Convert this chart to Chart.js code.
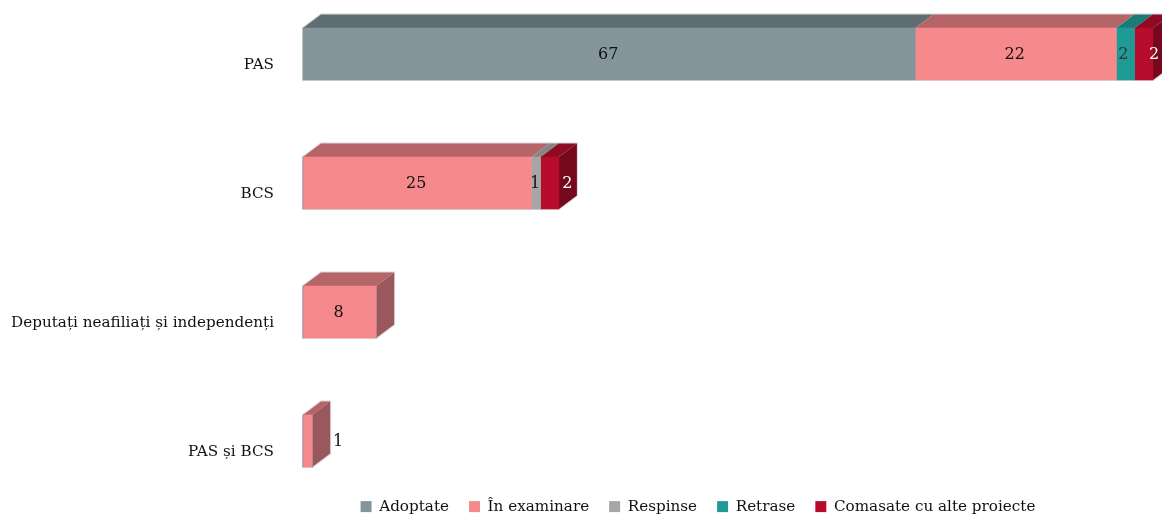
<!DOCTYPE html>
<html><head><meta charset="utf-8">
<style>html,body{margin:0;padding:0;background:#fff;overflow:hidden}canvas{display:block}</style>
<script src="https://cdn.jsdelivr.net/npm/chart.js@4"></script></head>
<body><canvas id="c" width="1162" height="514"></canvas>
<script>
const categories = ["PAS", "BCS", "Deputați neafiliați și independenți", "PAS și BCS"];
const seriesNames = ["Adoptate", "În examinare", "Respinse", "Retrase", "Comasate cu alte proiecte"];
const adoptate = [67, 0, 0, 0];
const inExaminare = [22, 25, 8, 1];
const respinse = [0, 1, 0, 0];
const retrase = [2, 0, 0, 0];
const comasate = [2, 2, 0, 0];
const seriesValues = [adoptate, inExaminare, respinse, retrase, comasate];
const frontColors = ["#84969c", "#f5898c", "#a6a6a6", "#1f9b96", "#b80c2c"];
const topColors = ["#5f6e73", "#b56568", "#858585", "#1a7b78", "#8f0a22"];
const sideColors = ["#56646a", "#99595c", "#6f6f6f", "#156562", "#75081c"];
const labelColors = ["#111", "#111", "#111", "#333", "#fff"];
const FONT = "'DejaVu Serif', serif";
const FONT_SIZE = 15.2;
const DX = 18, DY = 13.5;

const depth = {
  id: "depth",
  beforeLayout(chart){
    const l = chart.legend;
    if (l && !l._patched){ const f = l.fit; l.fit = function(){ f.call(this); this.height = 8.5; }; l._patched = true; }
  },
  afterLayout(chart){
    const l = chart.legend;
    const p = l.options.labels.padding;
    l.top = 499 - p; l.bottom = 514;
    l.left += 117; l.right += 117;
    const y = chart.scales.y;
    y.top = -10.5; y.bottom = 505.5; y.height = 516;
    y.configure();
  },
  beforeDatasetsDraw(chart){
    const ctx = chart.ctx;
    const xs = chart.scales.x;
    ctx.save();
    // pale silhouette behind each stack
    categories.forEach((c, i) => {
      const total = seriesValues.reduce((a, s) => a + s[i], 0);
      const bar = chart.getDatasetMeta(1).data[i];
      const h = bar.height, cy = bar.y;
      const x0 = xs.getPixelForValue(0), x1 = xs.getPixelForValue(total);
      ctx.strokeStyle = "rgba(195,195,195,0.65)";
      ctx.lineWidth = 2;
      ctx.beginPath();
      ctx.moveTo(x0, cy-h/2); ctx.lineTo(x0+DX, cy-h/2-DY); ctx.lineTo(x1+DX, cy-h/2-DY);
      ctx.lineTo(x1+DX, cy+h/2-DY); ctx.lineTo(x1, cy+h/2); ctx.lineTo(x0, cy+h/2);
      ctx.closePath(); ctx.stroke();
    });
    chart.data.datasets.forEach((d, di) => {
      chart.getDatasetMeta(di).data.forEach((bar, i) => {
        if (!d.data[i]) return;
        const p = bar.getProps(["x","y","base","height"], true);
        const top = p.y - p.height/2, bot = p.y + p.height/2;
        ctx.fillStyle = topColors[di];
        ctx.beginPath();
        ctx.moveTo(p.base, top); ctx.lineTo(p.base+DX, top-DY); ctx.lineTo(p.x+DX, top-DY); ctx.lineTo(p.x, top);
        ctx.closePath(); ctx.fill();
        const last = !seriesValues.slice(di+1).some(s => s[i]);
        if (last){
          ctx.fillStyle = sideColors[di];
          ctx.beginPath();
          ctx.moveTo(p.x, top); ctx.lineTo(p.x+DX, top-DY); ctx.lineTo(p.x+DX, bot-DY); ctx.lineTo(p.x, bot);
          ctx.closePath(); ctx.fill();
        }
      });
    });
    ctx.restore();
  },
  afterDatasetsDraw(chart){
    const ctx = chart.ctx;
    ctx.save();
    ctx.font = "16px " + FONT;
    ctx.textAlign = "center"; ctx.textBaseline = "middle";
    chart.data.datasets.forEach((d, di) => {
      chart.getDatasetMeta(di).data.forEach((bar, i) => {
        if (!d.data[i]) return;
        const p = bar.getProps(["x","y","base"], true);
        const w = p.x - p.base;
        let x = p.base + w/2 - 1;
        if (di === 4) x = Math.min(p.x + DX/2 - 0.5, chart.width - 8); // red segment: label sits on its side face
        if (w < 10 && di === 1 && !seriesValues.slice(2).some(s => s[i])) x = p.x + DX + 8; // thin bar: outside
        if (di === 3) x -= 1;
        ctx.fillStyle = labelColors[di];
        ctx.fillText(String(d.data[i]), x, p.y + 1);
      });
    });
    ctx.restore();
  }
};

new Chart(document.getElementById("c"), {
  type: "bar",
  data: {
    labels: categories,
    datasets: seriesNames.map((n, i) => ({
      label: n, data: seriesValues[i], backgroundColor: frontColors[i], borderWidth: 0,
      barThickness: 52, stack: "a", clip: false
    }))
  },
  plugins: [depth],
  options: {
    indexAxis: "y", responsive: false, animation: false,
    layout: { autoPadding: false },
    scales: {
      x: { stacked: true, display: false, min: 0, max: 94 },
      y: {
        stacked: true,
        border: { display: false },
        grid: { display: false, drawTicks: false },
        afterFit(s){ s.width = 303; s.paddingTop = 0; s.paddingBottom = 0; },
        ticks: { color: "#111", padding: 29, labelOffset: 11, font: { family: FONT, size: FONT_SIZE } }
      }
    },
    plugins: {
      tooltip: { enabled: false },
      title: { display: false },
      legend: {
        position: "bottom", align: "center",
        labels: { color: "#111", boxWidth: 11, boxHeight: 11, padding: 20, font: { family: FONT, size: FONT_SIZE } }
      }
    }
  }
});
</script></body></html>
